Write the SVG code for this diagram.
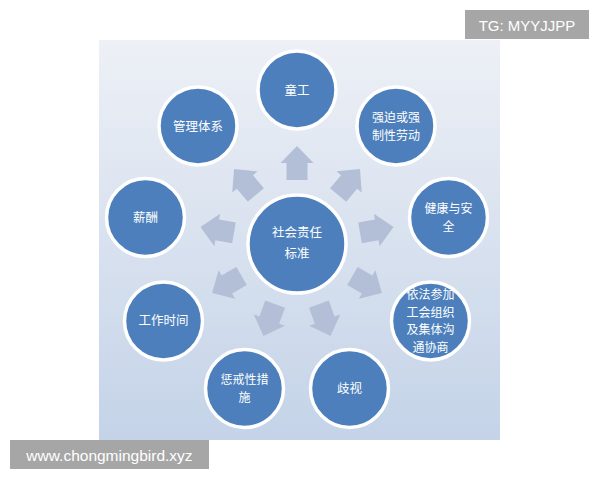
<svg xmlns="http://www.w3.org/2000/svg" width="600" height="480" viewBox="0 0 600 480">
<defs>
<linearGradient id="bg" x1="0" y1="0" x2="0" y2="1">
<stop offset="0" stop-color="#edf0f6"/>
<stop offset="1" stop-color="#c4d3e8"/>
</linearGradient>
<path id="arr" d="M -17,-10.5 L 0,-10.5 L 0,-16.5 L 17,0 L 0,16.5 L 0,10.5 L -17,10.5 Z"/>
</defs>
<style>
.node{fill:#4c7fbc;stroke:#ffffff;stroke-width:3.5}
.lbl{fill:#ffffff;font-family:"Noto Sans CJK SC","Noto Sans CJK TC",sans-serif;font-size:12.5px;text-anchor:middle}
.ml{font-size:12px}
.arrow{fill:#b3bfd7}
.wm{fill:#a6a6a6}
.wmt{fill:#ffffff;font-family:"Liberation Sans",Arial,sans-serif;text-anchor:middle}
</style>
<rect x="99" y="40" width="401" height="400" fill="url(#bg)"/>
<g id="connectors">
<use href="#arr" class="arrow" transform="translate(297,244) rotate(-90) translate(81,0)"/>
<use href="#arr" class="arrow" transform="translate(297,244) rotate(-50) translate(81,0)"/>
<use href="#arr" class="arrow" transform="translate(297,244) rotate(-10) translate(81,0)"/>
<use href="#arr" class="arrow" transform="translate(297,244) rotate(30) translate(81,0)"/>
<use href="#arr" class="arrow" transform="translate(297,244) rotate(70) translate(81,0)"/>
<use href="#arr" class="arrow" transform="translate(297,244) rotate(110) translate(81,0)"/>
<use href="#arr" class="arrow" transform="translate(297,244) rotate(150) translate(81,0)"/>
<use href="#arr" class="arrow" transform="translate(297,244) rotate(190) translate(81,0)"/>
<use href="#arr" class="arrow" transform="translate(297,244) rotate(230) translate(81,0)"/>
</g>
<g id="center">
<circle class="node" cx="297" cy="244" r="49"/>
<text class="lbl" x="297" y="237">社会责任</text>
<text class="lbl" x="297" y="258">标准</text>
</g>
<g id="n-tonggong">
<circle class="node" cx="297" cy="90" r="39"/>
<text class="lbl" x="297" y="95">童工</text>
</g>
<g id="n-qiangpo">
<circle class="node" cx="396" cy="126" r="39"/>
<text class="lbl ml" x="396" y="122">强迫或强</text>
<text class="lbl ml" x="396" y="139.5">制性劳动</text>
</g>
<g id="n-jiankang">
<circle class="node" cx="448.5" cy="217.5" r="39"/>
<text class="lbl ml" x="448.5" y="213">健康与安</text>
<text class="lbl ml" x="448.5" y="230.5">全</text>
</g>
<g id="n-gonghui">
<circle class="node" cx="430.5" cy="321" r="39"/>
<text class="lbl ml" x="430.5" y="299">依法参加</text>
<text class="lbl ml" x="430.5" y="316.5">工会组织</text>
<text class="lbl ml" x="430.5" y="334">及集体沟</text>
<text class="lbl ml" x="430.5" y="351.5">通协商</text>
</g>
<g id="n-qishi">
<circle class="node" cx="349.5" cy="388.5" r="39"/>
<text class="lbl" x="349.5" y="393">歧视</text>
</g>
<g id="n-chengjie">
<circle class="node" cx="244.5" cy="388.5" r="39"/>
<text class="lbl ml" x="244.5" y="384">惩戒性措</text>
<text class="lbl ml" x="244.5" y="401.5">施</text>
</g>
<g id="n-gongzuo">
<circle class="node" cx="163.5" cy="321" r="39"/>
<text class="lbl" x="163.5" y="325">工作时间</text>
</g>
<g id="n-xinchou">
<circle class="node" cx="145.5" cy="217.5" r="39"/>
<text class="lbl" x="145.5" y="222">薪酬</text>
</g>
<g id="n-guanli">
<circle class="node" cx="198" cy="126" r="39"/>
<text class="lbl" x="198" y="131">管理体系</text>
</g>
<g id="watermark-top">
<rect class="wm" x="465" y="10" width="124" height="29"/>
<text class="wmt" x="527" y="30.5" font-size="15">TG: MYYJJPP</text>
</g>
<g id="watermark-bottom">
<rect class="wm" x="10" y="440" width="199" height="29"/>
<text class="wmt" x="109.5" y="460.5" font-size="15.5">www.chongmingbird.xyz</text>
</g>
</svg>
